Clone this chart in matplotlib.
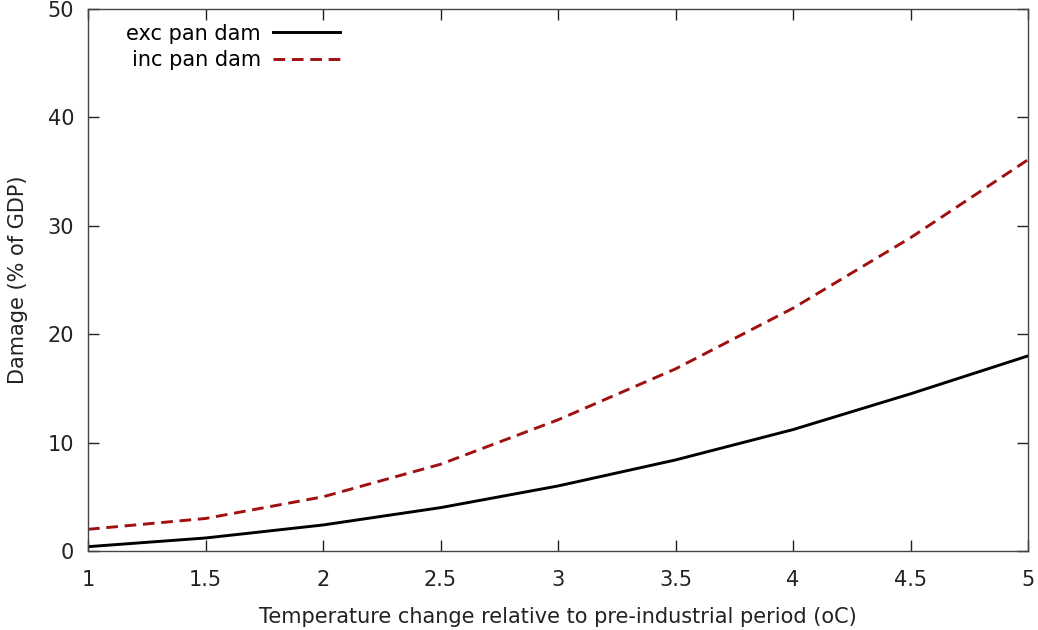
import numpy as np
import matplotlib.pyplot as plt

temp = [1.0, 1.5, 2.0, 2.5, 3.0, 3.5, 4.0, 4.5, 5.0]
exc_pan = [0.4, 1.2, 2.4, 4.0, 6.0, 8.4, 11.2, 14.5, 18.0]
inc_pan = [2.0, 3.0, 5.0, 8.0, 12.1, 16.8, 22.4, 28.9, 36.1]

xticks = [1, 1.5, 2, 2.5, 3, 3.5, 4, 4.5, 5]
xlabels = ['1', '1.5', '2', '2.5', '3', '3.5', '4', '4.5', '5']
yticks = [0, 10, 20, 30, 40, 50]

plt.rcParams['font.family'] = ['DejaVu Sans']

fig = plt.figure(figsize=(10.38, 6.3), dpi=100)
ax = fig.add_axes([0.0848, 0.1254, 0.9056, 0.8603])

ax.plot(temp, exc_pan, color='black', lw=2.1, label='exc pan dam')
ax.plot(temp, inc_pan, color='#a01010', lw=2.1, dashes=(4, 2.3), label='inc pan dam')

ax.set_xlim(1, 5)
ax.set_ylim(0, 50)
ax.set_xticks(xticks)
ax.set_xticklabels(xlabels)
ax.set_yticks(yticks)
ax.tick_params(direction='in', length=8, width=1, top=True, right=True,
               labelsize=15, colors='#222222', pad=10)
ax.tick_params(axis='x', pad=14)
for s in ax.spines.values():
    s.set_color('#444444')
    s.set_linewidth(1)

ax.set_xlabel('Temperature change relative to pre-industrial period (oC)', fontsize=15, labelpad=12,
              color='#222222')
ax.set_ylabel('Damage (% of GDP)', fontsize=15, labelpad=14, color='#222222')

ax.legend(loc='upper left', frameon=False, markerfirst=False, fontsize=15,
          handlelength=3.2, handletextpad=0.6, borderaxespad=0.3, labelspacing=0.3,
          bbox_to_anchor=(0.025, 1.0))

fig.savefig('out.png', dpi=100)
